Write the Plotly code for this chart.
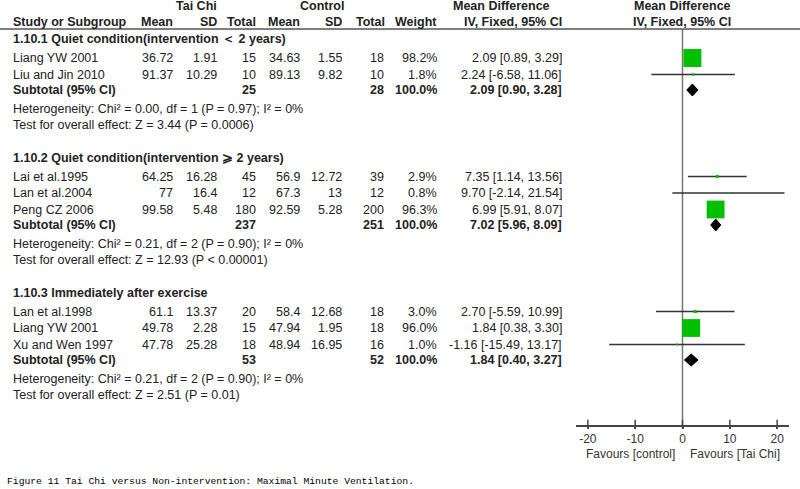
import plotly.graph_objects as go

# Study-level data (Tai Chi vs control)
study = ["Liang YW 2001", "Liu and Jin 2010",
         "Lai et al.1995", "Lan et al.2004", "Peng CZ 2006",
         "Lan et al.1998", "Liang YW 2001", "Xu and Wen 1997"]
group_of = [0, 0, 1, 1, 1, 2, 2, 2]
tc_mean = [36.72, 91.37, 64.25, 77, 99.58, 61.1, 49.78, 47.78]
tc_sd = [1.91, 10.29, 16.28, 16.4, 5.48, 13.37, 2.28, 25.28]
tc_n = [15, 10, 45, 12, 180, 20, 15, 18]
ct_mean = [34.63, 89.13, 56.9, 67.3, 92.59, 58.4, 47.94, 48.94]
ct_sd = [1.55, 9.82, 12.72, 13, 5.28, 12.68, 1.95, 16.95]
ct_n = [18, 10, 39, 12, 200, 18, 18, 16]
weight = [98.2, 1.8, 2.9, 0.8, 96.3, 3.0, 96.0, 1.0]
md = [2.09, 2.24, 7.35, 9.70, 6.99, 2.70, 1.84, -1.16]
md_lo = [0.89, -6.58, 1.14, -2.14, 5.91, -5.59, 0.38, -15.49]
md_hi = [3.29, 11.06, 13.56, 21.54, 8.07, 10.99, 3.30, 13.17]

# Subgroup data
sub_title = ["1.10.1 Quiet condition(intervention ＜ 2 years)",
             "1.10.2 Quiet condition(intervention ⩾ 2 years)",
             "1.10.3 Immediately after exercise"]
sub_tc_n = [25, 237, 53]
sub_ct_n = [28, 251, 52]
sub_md = [2.09, 7.02, 1.84]
sub_lo = [0.90, 5.96, 0.40]
sub_hi = [3.28, 8.09, 3.27]
het = ["Heterogeneity: Chi² = 0.00, df = 1 (P = 0.97); I² = 0%",
       "Heterogeneity: Chi² = 0.21, df = 2 (P = 0.90); I² = 0%",
       "Heterogeneity: Chi² = 0.21, df = 2 (P = 0.90); I² = 0%"]
overall = ["Test for overall effect: Z = 3.44 (P = 0.0006)",
           "Test for overall effect: Z = 12.93 (P < 0.00001)",
           "Test for overall effect: Z = 2.51 (P = 0.01)"]

ticks = [-20, -10, 0, 10, 20]
caption = "Figure 11 Tai Chi versus Non-intervention: Maximal Minute Ventilation."

W, H = 800, 489
FONT = "Arial, Liberation Sans, sans-serif"
FS = 12.5
TXT = "#222"

def px(x):
    return x / W

# --- row layout (y in pixels from the top) ---
title_y, study_y, subtotal_y, het_y, test_y = [], [], [], [], []
y = 39
for g in range(3):
    title_y.append(y)
    y += 19
    for gi in group_of:
        if gi == g:
            study_y.append(y)
            y += 16.5
    y -= 1
    subtotal_y.append(y)
    y += 19
    het_y.append(y)
    y += 16
    test_y.append(y)
    y += 32.5

axis_y = 426
top_line = 29

ann = []

def text(x, yy, s, anchor="left", bold=False, size=FS, color=TXT, family=FONT):
    ann.append(dict(x=px(x), y=yy, xref="paper", yref="y",
                    text=f"<b>{s}</b>" if bold else s, showarrow=False,
                    xanchor=anchor, yanchor="middle",
                    font=dict(family=family, size=size, color=color)))

# header
text(196, 6, "Tai Chi", "center", True)
text(322, 6, "Control", "center", True)
text(502, 6, "Mean Difference", "center", True)
text(682, 6, "Mean Difference", "center", True)
text(11, 22, "Study or Subgroup", "left", True)
for x, s in [(175, "Mean"), (219, "SD"), (258, "Total"), (302, "Mean"),
             (344, "SD"), (387, "Total"), (439, "Weight"), (564, "IV, Fixed, 95% CI")]:
    text(x, 22, s, "right", True)
text(682, 22, "IV, Fixed, 95% CI", "center", True)

# study rows
for i in range(len(study)):
    yy = study_y[i]
    text(11, yy, study[i])
    text(175, yy, str(tc_mean[i]), "right")
    text(219, yy, str(tc_sd[i]), "right")
    text(258, yy, str(tc_n[i]), "right")
    text(302, yy, str(ct_mean[i]), "right")
    text(344, yy, str(ct_sd[i]), "right")
    text(386, yy, str(ct_n[i]), "right")
    text(439, yy, f"{weight[i]:.1f}%", "right")
    text(564, yy, f"{md[i]:.2f} [{md_lo[i]:.2f}, {md_hi[i]:.2f}]", "right")

# subgroup rows
for g in range(3):
    text(11, title_y[g], sub_title[g], bold=True)
    text(11, subtotal_y[g], "Subtotal (95% CI)", bold=True)
    text(258, subtotal_y[g], str(sub_tc_n[g]), "right", True)
    text(386, subtotal_y[g], str(sub_ct_n[g]), "right", True)
    text(439, subtotal_y[g], "100.0%", "right", True)
    text(564, subtotal_y[g], f"{sub_md[g]:.2f} [{sub_lo[g]:.2f}, {sub_hi[g]:.2f}]", "right", True)
    text(11, het_y[g], het[g])
    text(11, test_y[g], overall[g])

# favours labels and caption
text(677, 454, "Favours [control]", "right", size=12, color="#333")
text(688, 454, "Favours [Tai Chi]", "left", size=12, color="#333")
text(5, 481, caption, "left", size=9.7, color="#000",
     family="Liberation Mono, Courier New, monospace")

fig = go.Figure()

# zero line
fig.add_trace(go.Scatter(x=[0, 0], y=[top_line, axis_y], mode="lines",
                         line=dict(color="#777", width=1.5), hoverinfo="skip"))

# CI lines
cx, cy = [], []
for i in range(len(study)):
    cx += [md_lo[i], md_hi[i], None]
    cy += [study_y[i], study_y[i], None]
fig.add_trace(go.Scatter(x=cx, y=cy, mode="lines", line=dict(color="#333", width=1.5)))

# weight squares
fig.add_trace(go.Scatter(x=md, y=study_y, mode="markers",
                         marker=dict(symbol="square", color="#00C000", opacity=1,
                                     size=[18 * (w / 98.2) ** 0.5 for w in weight],
                                     line=dict(width=0))))

# subtotal diamonds
dx, dy = [], []
for g in range(3):
    yy = subtotal_y[g]
    dx += [sub_lo[g], sub_md[g], sub_hi[g], sub_md[g], sub_lo[g], None]
    dy += [yy, yy - 6, yy, yy + 6, yy, None]
fig.add_trace(go.Scatter(x=dx, y=dy, mode="lines", fill="toself", fillcolor="#000",
                         line=dict(color="#000", width=1)))

# tick marks crossing the axis line (upper half)
fig.add_trace(go.Scatter(x=ticks, y=[axis_y - 2] * len(ticks), mode="markers",
                         marker=dict(symbol="line-ns", size=6, opacity=1,
                                     line=dict(color="#444", width=1.5))))

fig.update_layout(
    width=W, height=H, margin=dict(l=0, r=0, t=0, b=0),
    paper_bgcolor="white", plot_bgcolor="white", showlegend=False,
    annotations=ann,
    shapes=[dict(type="line", xref="paper", yref="y", x0=0, x1=1, y0=top_line, y1=top_line,
                 line=dict(color="#555", width=1.5))],
    xaxis=dict(domain=[576 / W, 789 / W], range=[-22.5, 22.5], anchor="free",
               position=1 - axis_y / H, showline=True, linecolor="#444", linewidth=1.5,
               tickvals=ticks, ticktext=[str(t) for t in ticks],
               ticks="outside", ticklen=2, tickwidth=1.5, tickcolor="#444",
               tickfont=dict(family=FONT, size=12, color="#333"),
               showgrid=False, zeroline=False, fixedrange=True),
    yaxis=dict(domain=[0, 1], range=[H, 0], visible=False, fixedrange=True),
)

# page body has an 8px default margin; drop it so the figure fills the window
fig.write_html("out.html", config={"displayModeBar": False},
               post_script="document.body.style.margin='0px';")
